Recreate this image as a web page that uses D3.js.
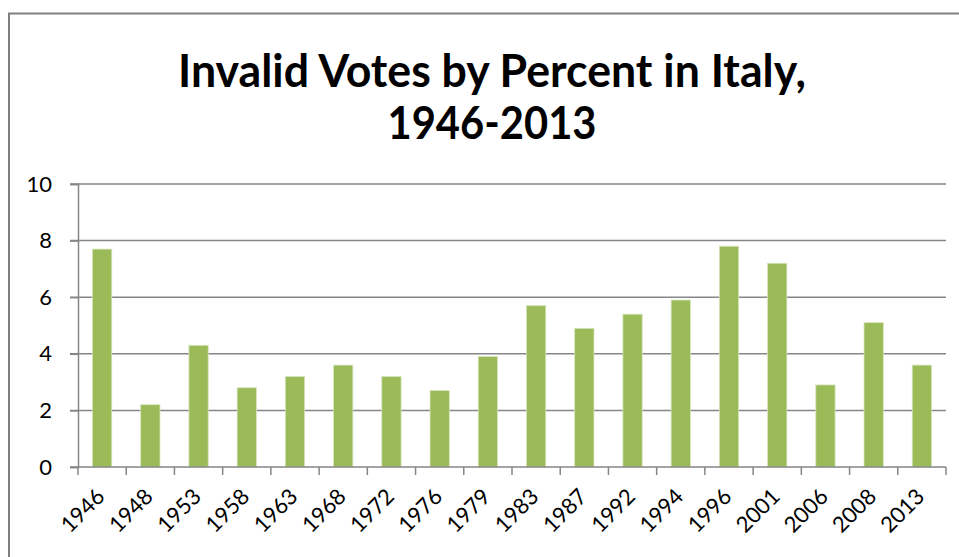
<!DOCTYPE html>
<html>
<head>
<meta charset="utf-8">
<script src="https://cdn.jsdelivr.net/npm/d3@7"></script>
<style>
  body { margin: 0; background: #fff; }
  svg { display: block; }
  text { font-family: Lato, "Open Sans", sans-serif; fill: #000; }
</style>
</head>
<body>
<div id="chart"></div>
<script>
// chart data
var years = ["1946", "1948", "1953", "1958", "1963", "1968", "1972", "1976", "1979",
             "1983", "1987", "1992", "1994", "1996", "2001", "2006", "2008", "2013"];
var invalidPct = [7.7, 2.2, 4.3, 2.8, 3.2, 3.6, 3.2, 2.7, 3.9,
                  5.7, 4.9, 5.4, 5.9, 7.8, 7.2, 2.9, 5.1, 3.6];
var yTicks = [0, 2, 4, 6, 8, 10];
var titleLines = ["Invalid Votes by Percent in Italy,", "1946-2013"];

var W = 959, H = 557;
var barColor = "#9bbb59";
var axisColor = "#868686";

// plot area
var plotLeft = 78, plotRight = 946, plotTop = 184, plotBottom = 467;

var svg = d3.select("#chart").append("svg")
    .attr("width", W)
    .attr("height", H);

// outer chart frame (runs off the screenshot on right and bottom)
svg.append("rect")
    .attr("x", 9)
    .attr("y", 13.5)
    .attr("width", 1000)
    .attr("height", 600)
    .attr("fill", "#fff")
    .attr("stroke", "#808080")
    .attr("stroke-width", 2);

// title, two lines squeezed to the reference widths
svg.append("text")
    .attr("x", 492)
    .attr("y", 87)
    .attr("text-anchor", "middle")
    .attr("font-size", 46)
    .attr("font-weight", "bold")
    .attr("textLength", 628)
    .attr("lengthAdjust", "spacingAndGlyphs")
    .text(titleLines[0]);

svg.append("text")
    .attr("x", 492)
    .attr("y", 139)
    .attr("text-anchor", "middle")
    .attr("font-size", 46)
    .attr("font-weight", "bold")
    .attr("textLength", 209)
    .attr("lengthAdjust", "spacingAndGlyphs")
    .text(titleLines[1]);

var x = d3.scaleBand()
    .domain(years)
    .range([plotLeft, plotRight])
    .paddingInner(0.6)
    .paddingOuter(0.3);

var y = d3.scaleLinear()
    .domain([0, 10])
    .range([plotBottom, plotTop]);

// gridlines
svg.append("g")
    .selectAll("line")
    .data(yTicks.filter(function (d) { return d > 0; }))
    .enter().append("line")
    .attr("x1", plotLeft - 8)
    .attr("x2", plotRight)
    .attr("y1", function (d) { return y(d); })
    .attr("y2", function (d) { return y(d); })
    .attr("stroke", axisColor)
    .attr("stroke-width", 1.5);

// bars
svg.append("g")
    .selectAll("rect")
    .data(invalidPct)
    .enter().append("rect")
    .attr("x", function (d, i) { return x(years[i]); })
    .attr("y", function (d) { return y(d); })
    .attr("width", x.bandwidth())
    .attr("height", function (d) { return plotBottom - y(d); })
    .attr("fill", barColor)
    .attr("stroke", "#d7e4bd")
    .attr("stroke-width", 0.8);

// y axis
var yAxis = d3.axisLeft(y)
    .tickValues(yTicks)
    .tickSize(8)
    .tickPadding(18);

var gy = svg.append("g")
    .attr("transform", "translate(" + plotLeft + ",0)")
    .call(yAxis);
gy.select(".domain").attr("stroke", axisColor).attr("stroke-width", 1.5);
gy.selectAll("line").attr("stroke", axisColor).attr("stroke-width", 1.5);
gy.selectAll("text")
    .attr("font-size", 22)
    .attr("font-family", "Lato, 'Open Sans', sans-serif")
    .attr("fill", "#000");

// x axis: Excel-style ticks between categories
var bounds = d3.range(years.length + 1).map(function (i) {
    return plotLeft + i * (plotRight - plotLeft) / years.length;
});

svg.append("line")
    .attr("x1", plotLeft - 8)
    .attr("x2", plotRight)
    .attr("y1", plotBottom)
    .attr("y2", plotBottom)
    .attr("stroke", axisColor)
    .attr("stroke-width", 1.5);

svg.append("g")
    .selectAll("line")
    .data(bounds)
    .enter().append("line")
    .attr("x1", function (d) { return d; })
    .attr("x2", function (d) { return d; })
    .attr("y1", plotBottom)
    .attr("y2", plotBottom + 8)
    .attr("stroke", axisColor)
    .attr("stroke-width", 1.5);

svg.append("g")
    .selectAll("text")
    .data(years)
    .enter().append("text")
    .attr("transform", function (d) {
        var cx = x(d) + x.bandwidth() / 2;
        return "translate(" + (cx + 4) + "," + 498 + ") rotate(-45)";
    })
    .attr("text-anchor", "end")
    .attr("font-size", 22)
    .text(function (d) { return d; });
</script>
</body>
</html>
